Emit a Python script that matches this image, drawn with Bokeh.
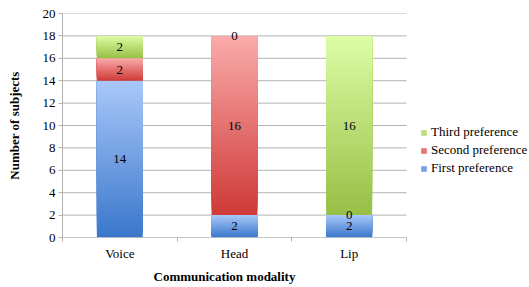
from bokeh.plotting import figure
from bokeh.models import (ColumnDataSource, FixedTicker, Legend, LegendItem,
                          Range1d, Title)
from bokeh.core.properties import value
from bokeh.embed import file_html
from bokeh.resources import INLINE

categories = ["Voice", "Head", "Lip"]
first_pref = [14, 2, 2]
second_pref = [2, 16, 0]
third_pref = [2, 0, 16]
series_names = ["First preference", "Second preference", "Third preference"]
y_ticks = [0, 2, 4, 6, 8, 10, 12, 14, 16, 18, 20]

# gradient colours (top, bottom) per series
grad = [((0xa8, 0xc7, 0xf8), (0x3b, 0x78, 0xcc)),
        ((0xf9, 0xaa, 0xa9), (0xcf, 0x3b, 0x39)),
        ((0xdc, 0xfc, 0xa4), (0x98, 0xc0, 0x46))]

SERIF = "Liberation Serif"
GRID = "#b3b3b3"

W, H = 529, 287
LEFT, TOP, BOTTOM = 62, 13, 50
PLOT_W = 344          # width of the category area in px
ncat = len(categories)
x_end = ncat * (W - LEFT) / PLOT_W

p = figure(width=W, height=H, output_backend="svg", toolbar_location=None,
           x_range=Range1d(0, x_end), y_range=Range1d(0, 20),
           min_border_left=LEFT, min_border_right=0, min_border_top=TOP,
           min_border_bottom=BOTTOM)
p.outline_line_color = None
p.xgrid.visible = False
p.ygrid.visible = False

# horizontal grid lines only across the category area
p.segment(x0=[0] * len(y_ticks), x1=[ncat] * len(y_ticks), y0=y_ticks, y1=y_ticks,
          line_color=GRID, line_width=1)

def hexc(c):
    return "#%02x%02x%02x" % tuple(int(round(v)) for v in c)

N = 40
series = [first_pref, second_pref, third_pref]
renderers = []
lx, ly, lt = [], [], []
bases = [0] * ncat
for si, vals in enumerate(series):
    top_c, bot_c = grad[si]
    xs, bots, tops, cols = [], [], [], []
    for ci in range(ncat):
        v = vals[ci]
        base = bases[ci]
        if v > 0:
            for k in range(N):
                f = k / (N - 1)
                col = [bot_c[j] + (top_c[j] - bot_c[j]) * f for j in range(3)]
                xs.append(ci + 0.5)
                bots.append(base + v * k / N)
                tops.append(base + v)
                cols.append(hexc(col))
        lx.append(ci + 0.5)
        ly.append(base + v / 2)
        lt.append(str(v))
        bases[ci] += v
    src = ColumnDataSource(dict(x=xs, bottom=bots, top=tops, color=cols))
    r = p.vbar(x="x", bottom="bottom", top="top", width=0.4, fill_color="color",
               line_color=None, source=src)
    renderers.append(r)

lsrc = ColumnDataSource(dict(x=lx, y=ly, t=lt))
p.text(x="x", y="y", text="t", source=lsrc, text_align="center",
       text_baseline="middle", text_font=value(SERIF), text_font_size="13px",
       text_color="#000000")

# x axis line only across the category area
p.segment(x0=[0], x1=[ncat], y0=[0], y1=[0], line_color=GRID, line_width=1)

# axes
xa = p.xaxis[0]
xa.ticker = FixedTicker(ticks=[i + 0.5 for i in range(ncat)],
                        minor_ticks=list(range(ncat + 1)))
xa.major_label_overrides = {i + 0.5: c for i, c in enumerate(categories)}
xa.major_tick_out = 0
xa.major_tick_in = 0
xa.minor_tick_out = 4
xa.minor_tick_in = 0
xa.minor_tick_line_color = GRID
xa.axis_line_color = None
xa.major_label_text_font = SERIF
xa.major_label_text_font_size = "13px"
xa.major_label_text_color = "#000000"
xa.major_label_standoff = 4
xa.axis_label = None

# x axis title centred under the category area
xtitle = Title(text="Communication modality", align="left", offset=91,
               standoff=6, text_font=SERIF, text_font_size="13px",
               text_font_style="bold", text_color="#000000")
p.add_layout(xtitle, "below")

ya = p.yaxis[0]
ya.ticker = FixedTicker(ticks=y_ticks)
ya.major_tick_out = 4
ya.major_tick_in = 0
ya.minor_tick_out = 0
ya.minor_tick_in = 0
ya.major_tick_line_color = GRID
ya.axis_line_color = GRID
ya.major_label_text_font = SERIF
ya.major_label_text_font_size = "13px"
ya.major_label_text_color = "#000000"
ya.major_label_standoff = 3
ya.axis_label = "Number of subjects"
ya.axis_label_text_font = SERIF
ya.axis_label_text_font_size = "13px"
ya.axis_label_text_font_style = "bold"
ya.axis_label_standoff = 18
ya.axis_label_text_color = "#000000"

# legend
items = []
for si in [2, 1, 0]:
    items.append(LegendItem(label=series_names[si], renderers=[renderers[si]],
                            index=N // 2))
legend = Legend(items=items, location=(358, 60), padding=0, margin=0,
                spacing=0, label_height=18, glyph_width=7, glyph_height=7,
                label_standoff=4, border_line_color=None,
                background_fill_alpha=0,
                label_text_font=SERIF, label_text_font_size="13px",
                label_text_color="#000000")
p.add_layout(legend, "center")

open("out.html", "w").write(file_html(p, INLINE))
